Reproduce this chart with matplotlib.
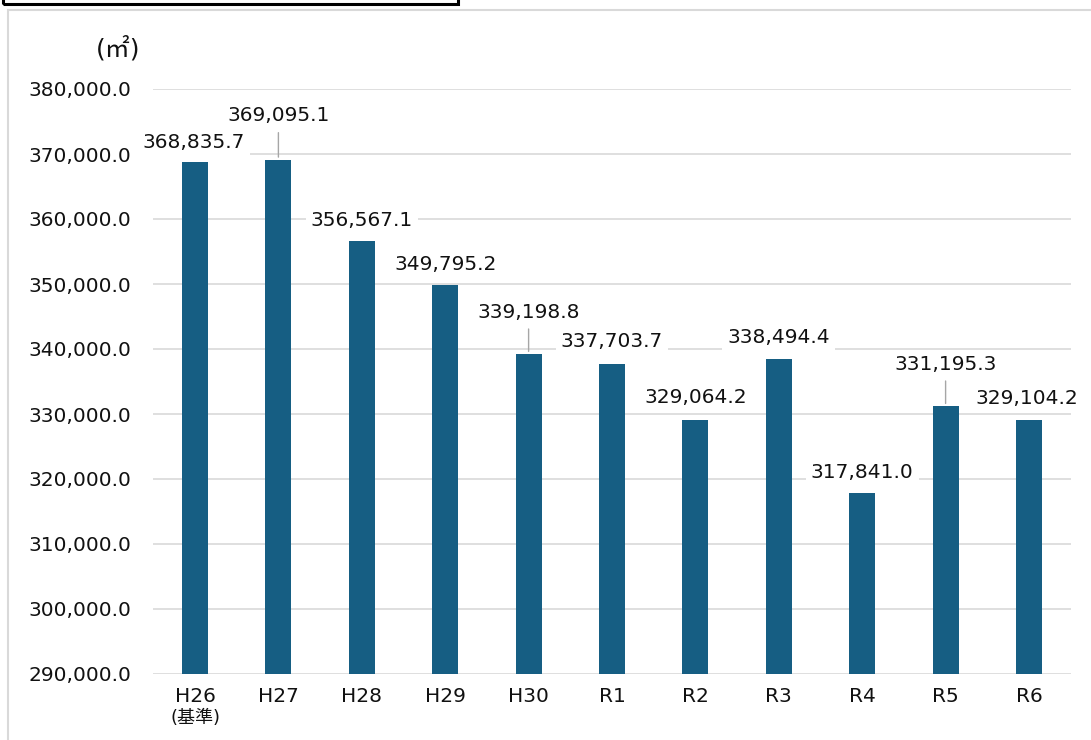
import matplotlib.pyplot as plt
from matplotlib.patches import Rectangle

plt.rcParams['font.family'] = ['DejaVu Sans', 'Noto Sans CJK JP']

years = ['H26', 'H27', 'H28', 'H29', 'H30', 'R1', 'R2', 'R3', 'R4', 'R5', 'R6']
areas = [368835.7, 369095.1, 356567.1, 349795.2, 339198.8, 337703.7,
         329064.2, 338494.4, 317841.0, 331195.3, 329104.2]

# label offset from bar top (pixels) and whether a leader line is drawn
label_dx = [-1, 0, 0, 0, 0, 0, 0, 0, 0, 0, -2]
label_dy = [19, 44, 21, 21, 42, 22, 23, 21, 21, 42, 21]
leader = [False, True, False, False, True, False, False, False, False, True, False]

fig = plt.figure(figsize=(10.91, 7.40), dpi=100)

# frame decorations
fig.patches.append(Rectangle((3 / 1091, 1 - 4 / 740), 455 / 1091, 0.1,
                             transform=fig.transFigure, fill=False,
                             edgecolor='black', linewidth=2.2))
fig.patches.append(Rectangle((8 / 1091, -0.1), 1.1, 1.1 - 10 / 740,
                             transform=fig.transFigure, fill=False,
                             edgecolor='#d9d9d9', linewidth=1.5))

ax = fig.add_axes([153.3 / 1091, 1 - 674 / 740, 917.4 / 1091, 585 / 740])
x = range(len(years))
bars = ax.bar(x, areas, width=0.31, color='#165e83', zorder=2)

ax.set_ylim(290000, 380000)
ax.set_xlim(-0.5, len(years) - 0.5)
ax.set_yticks(range(290000, 380001, 10000))
ax.yaxis.set_major_formatter(plt.FuncFormatter(lambda v, p: f'{v:,.1f}'))
ax.grid(axis='y', color='#d9d9d9', linewidth=1.2, zorder=0)
for s in ['top', 'right', 'left', 'bottom']:
    ax.spines[s].set_visible(False)
ax.tick_params(axis='y', length=0, pad=16, labelsize=14.5, labelcolor='#111111')
ax.tick_params(axis='x', length=0, pad=9, labelsize=14.5, labelcolor='#111111')
ax.set_xticks(list(x))
ax.set_xticklabels(years)

ax.annotate('(基準)', xy=(0, 0), xycoords=('data', 'axes fraction'),
            xytext=(0, -44), textcoords='offset pixels',
            ha='center', va='center', fontsize=13, color='#111111')

fig.text(118 / 1091, 1 - 49 / 740, '(㎡)', ha='center', va='center',
         fontsize=18, color='#111111')

for i, v in enumerate(areas):
    ax.annotate(f'{v:,.1f}', xy=(i, v), xytext=(label_dx[i], label_dy[i]),
                textcoords='offset pixels', ha='center', va='center',
                fontsize=14.5, color='#111111', zorder=3,
                bbox=dict(boxstyle='square,pad=0.25', fc='white', ec='none'))
    if leader[i]:
        ax.annotate('', xy=(i, v), xytext=(0, label_dy[i] - 14),
                    textcoords='offset pixels',
                    arrowprops=dict(arrowstyle='-', color='#a6a6a6', lw=1))

fig.savefig('out.png', dpi=100)
